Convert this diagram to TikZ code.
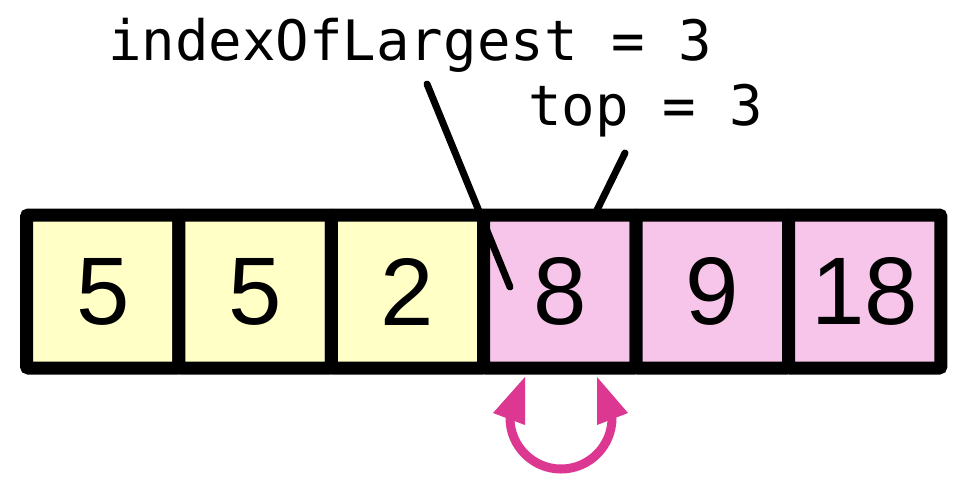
\documentclass[tikz,border=0pt]{standalone}
\usepackage{fontspec}
\setmainfont{Liberation Sans}
\newfontfamily\codefont{DejaVu Sans Mono}
\definecolor{cellyellow}{RGB}{255,255,198}
\definecolor{cellpink}{RGB}{247,197,233}
\definecolor{swappink}{RGB}{220,55,145}
\tikzset{
  cellbox/.style={draw=black, line width=13pt, minimum width=152.4pt, minimum height=153pt,
    inner sep=0pt, font=\fontsize{96}{96}\selectfont, rounded corners=2pt},
  codelabel/.style={inner sep=0pt, anchor=base west, font=\codefont\fontsize{55.7}{56}\selectfont},
  pointer/.style={line width=7pt, line cap=round},
}
\begin{document}
\begin{tikzpicture}[x=1pt, y=-1pt]
\useasboundingbox (0,0) rectangle (965,490);
\fill[white] (0,0) rectangle (965,490);
% cells
\node[cellbox, fill=cellyellow] (c0) at (102.7,291.5) {5};
\node[cellbox, fill=cellyellow] (c1) at (255.1,291.5) {5};
\node[cellbox, fill=cellyellow] (c2) at (407.5,291.5) {2};
\node[cellbox, fill=cellpink] (c3) at (559.9,291.5) {8};
\node[cellbox, fill=cellpink] (c4) at (712.3,291.5) {9};
\node[cellbox, fill=cellpink] (c5) at (864.7,291.5) {18};
% labels
\node[codelabel] (idx) at (108,60) {indexOfLargest = 3};
\node[codelabel] (top) at (528,125) {top = 3};
\coordinate (idxA) at (427,84);
\coordinate (idxB) at (510,287);
\coordinate (topA) at (625,153);
\coordinate (topB) at (597,210);
\draw[pointer] (idxA) -- (idxB);
\draw[pointer] (topA) -- (topB);
% swap arrow
\coordinate (swL) at (510,418);
\coordinate (swR) at (612,418);
\draw[swappink, line width=9pt] (swL) arc[start angle=180, end angle=0, radius=51];
\fill[swappink] (525,377) -- (493,413) -- (525,425) -- cycle;
\fill[swappink] (597,377) -- (628,413) -- (597,425) -- cycle;
\end{tikzpicture}
\end{document}
